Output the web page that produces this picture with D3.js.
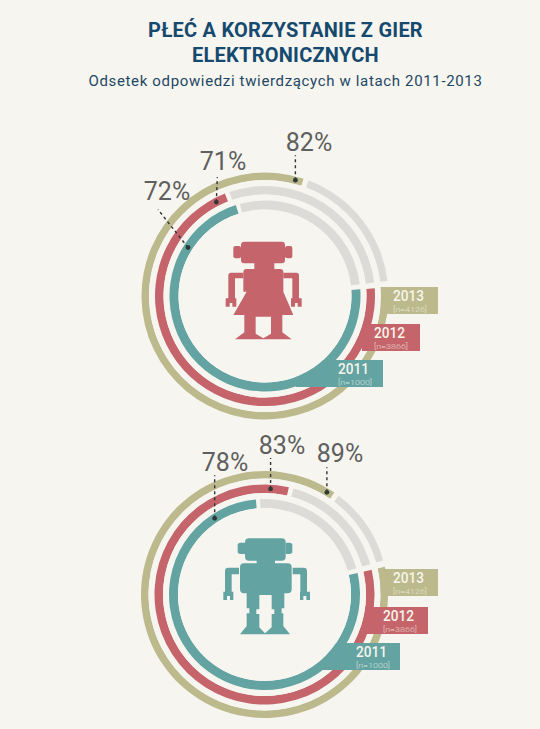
<!DOCTYPE html>
<html>
<head>
<meta charset="utf-8">
<script src="https://cdn.jsdelivr.net/npm/d3@7"></script>
<style>
  html, body { margin: 0; padding: 0; background: #f6f5f0; }
  svg { display: block; font-family: Roboto, sans-serif; }
</style>
</head>
<body>
<svg id="chart" width="540" height="729"></svg>
<script>
// data
const titleLines = ['PŁEĆ A KORZYSTANIE Z GIER', 'ELEKTRONICZNYCH']
const subtitle = 'Odsetek odpowiedzi twierdzących w latach 2011-2013'
const years = ['2013', '2012', '2011']
const sampleLabels = ['[n=4126]', '[n=3866]', '[n=1000]']
const femaleValues = [82, 71, 72]
const maleValues = [89, 83, 78]

// layout
const colors = ['#bcb98c', '#c5656b', '#63a4a3']
const grey = '#dcdbd7'
const bg = '#f6f5f0'
const rings = [[116, 123.5], [101.5, 110], [86.5, 95.5]]

const femaleLayout = {
  cx: 265, cy: 296, start: 83,
  boxes: [[380, 287, 438, 314], [362, 324, 420, 351], [296, 360, 383, 387]],
  textX: [393, 374, 338],
  dotBack: [3.5, 6, 40],
  leader: [[0, -25], [1, -25], [-30, -38]],
  labelAt: [[309, 151], [223, 170], [167, 200]]
}
const maleLayout = {
  cx: 264.5, cy: 594.5, start: 74,
  boxes: [[380, 569, 438, 596], [367, 607, 428, 634], [323, 643, 400, 670]],
  textX: [393, 383, 356],
  dotBack: [3, 9.5, 28],
  leader: [[0, -25], [0, -31], [0, -43]],
  labelAt: [[340, 462], [282, 454], [225, 471]]
}

// robots are drawn on a 3x grid, then scaled down
const girlParts = [
  'M88 20H200Q210 20 210 30V75Q210 85 200 85H178V102H195Q205 102 205 112V170L235 240H202V292L230 313H60L88 292V240H55L95 170H85V112Q85 102 95 102H118V85H88Q78 85 78 75V30Q78 20 88 20Z',
  'M62 33H72Q78 33 78 39V64Q78 70 72 70H62Q55 70 55 64V39Q55 33 62 33Z',
  'M217 33H226Q232 33 232 39V64Q232 70 226 70H217Q210 70 210 64V39Q210 33 217 33Z',
  'M48 113H85V130H60V190H64V215H52V204H44V215H32V190H40V121Q40 113 48 113Z',
  'M205 113H244Q252 113 252 121V190H260V215H248V204H240V215H228V190H232V130H205Z'
]
const girlCut = 'M122 245H168V296L145 310L122 296Z'

const boyParts = [
  'M102 25H200Q212 25 212 37V80Q212 92 200 92H180V100H218Q230 100 230 112V178Q230 190 218 190H208V235H200V250H205V288L225 313H75L95 288V250H103V235H95V190H87Q75 190 75 178V112Q75 100 87 100H125V92H102Q90 92 90 80V37Q90 25 102 25Z',
  'M76 38H90V72H76Q68 72 68 64V46Q68 38 76 38Z',
  'M212 38H224Q232 38 232 46V64Q232 72 224 72H212Z',
  'M40 113H72V133H50V185H55V210H45V198H36V210H25V185H30V123Q30 113 40 113Z',
  'M233 113H266Q276 113 276 123V185H285V210H274V198H265V210H255V185H256V133H233Z'
]
const boyCut = 'M133 195H170V238H178V252H170V292L150 310L133 292V252H124V238H133Z'

const svg = d3.select('#chart')
svg.append('rect').attr('width', 540).attr('height', 729).attr('fill', bg)

svg.selectAll('text.title')
  .data(titleLines)
  .join('text')
  .attr('class', 'title')
  .attr('x', 285.5)
  .attr('y', (d, i) => 37 + i * 25)
  .attr('text-anchor', 'middle')
  .attr('font-size', 20)
  .attr('font-weight', 700)
  .attr('letter-spacing', 0.23)
  .attr('fill', '#154a6e')
  .text(d => d)

svg.append('text')
  .attr('x', 285.5)
  .attr('y', 86)
  .attr('text-anchor', 'middle')
  .attr('font-size', 15)
  .attr('letter-spacing', 0.65)
  .attr('fill', '#1f4763')
  .text(subtitle)

function drawDonut(values, layout, parts, cut, robotColor, robotX, robotY) {
  const angle = d3.scaleLinear().domain([0, 100]).range([layout.start, layout.start + 360])
  const rad = d => d * Math.PI / 180
  const g = svg.append('g').attr('transform', `translate(${layout.cx},${layout.cy})`)
  const arc = d3.arc()

  values.forEach((v, i) => {
    const [inner, outer] = rings[i]
    // unanswered part
    g.append('path')
      .attr('d', arc({
        innerRadius: inner, outerRadius: outer,
        startAngle: rad(angle(v) + 2.5), endAngle: rad(angle(100))
      }))
      .attr('fill', grey)
    // year tag goes under the ring edge, the disc below trims it
    const b = layout.boxes[i]
    g.append('rect')
      .attr('x', b[0] - layout.cx).attr('y', b[1] - layout.cy)
      .attr('width', b[2] - b[0]).attr('height', b[3] - b[1])
      .attr('fill', colors[i])
    g.append('path')
      .attr('d', arc({
        innerRadius: inner, outerRadius: outer,
        startAngle: rad(angle(0) + 3), endAngle: rad(angle(v))
      }))
      .attr('fill', colors[i])
    g.append('circle').attr('r', inner).attr('fill', bg)
    g.append('text')
      .attr('x', layout.textX[i] - layout.cx).attr('y', b[1] + 14 - layout.cy)
      .attr('font-size', 15).attr('font-weight', 500)
      .attr('textLength', 31).attr('lengthAdjust', 'spacingAndGlyphs')
      .attr('fill', '#f7f5ea')
      .text(years[i])
    g.append('text')
      .attr('x', layout.textX[i] - layout.cx).attr('y', b[1] + 25 - layout.cy)
      .attr('font-size', 8).attr('font-weight', 300)
      .attr('textLength', 34).attr('lengthAdjust', 'spacingAndGlyphs')
      .attr('fill', '#f7f5ea').attr('fill-opacity', 0.75)
      .text(sampleLabels[i])
  })

  // percentage callouts
  values.forEach((v, i) => {
    const [inner, outer] = rings[i]
    const r = (inner + outer) / 2
    const a = rad(angle(v) - layout.dotBack[i])
    const x = Math.sin(a) * r
    const y = -Math.cos(a) * r
    g.append('line')
      .attr('x1', x).attr('y1', y)
      .attr('x2', x + layout.leader[i][0]).attr('y2', y + layout.leader[i][1])
      .attr('stroke', '#333').attr('stroke-width', 1.4).attr('stroke-dasharray', '3 3')
    g.append('circle').attr('cx', x).attr('cy', y).attr('r', 2.4).attr('fill', '#2f3a38')
    g.append('text')
      .attr('x', layout.labelAt[i][0] - layout.cx).attr('y', layout.labelAt[i][1] - layout.cy)
      .attr('text-anchor', 'middle')
      .attr('font-size', 25).attr('fill', '#5f5f5d')
      .text(v + '%')
  })

  const robot = svg.append('g').attr('transform', `translate(${robotX},${robotY}) scale(${1 / 3})`)
  robot.selectAll('path.part')
    .data(parts)
    .join('path')
    .attr('class', 'part')
    .attr('d', d => d)
    .attr('fill', robotColor)
  robot.append('path').attr('d', cut).attr('fill', bg)
}

drawDonut(femaleValues, femaleLayout, girlParts, girlCut, colors[1], 215, 235)
drawDonut(maleValues, maleLayout, boyParts, boyCut, colors[2], 215, 530)
</script>
</body>
</html>
